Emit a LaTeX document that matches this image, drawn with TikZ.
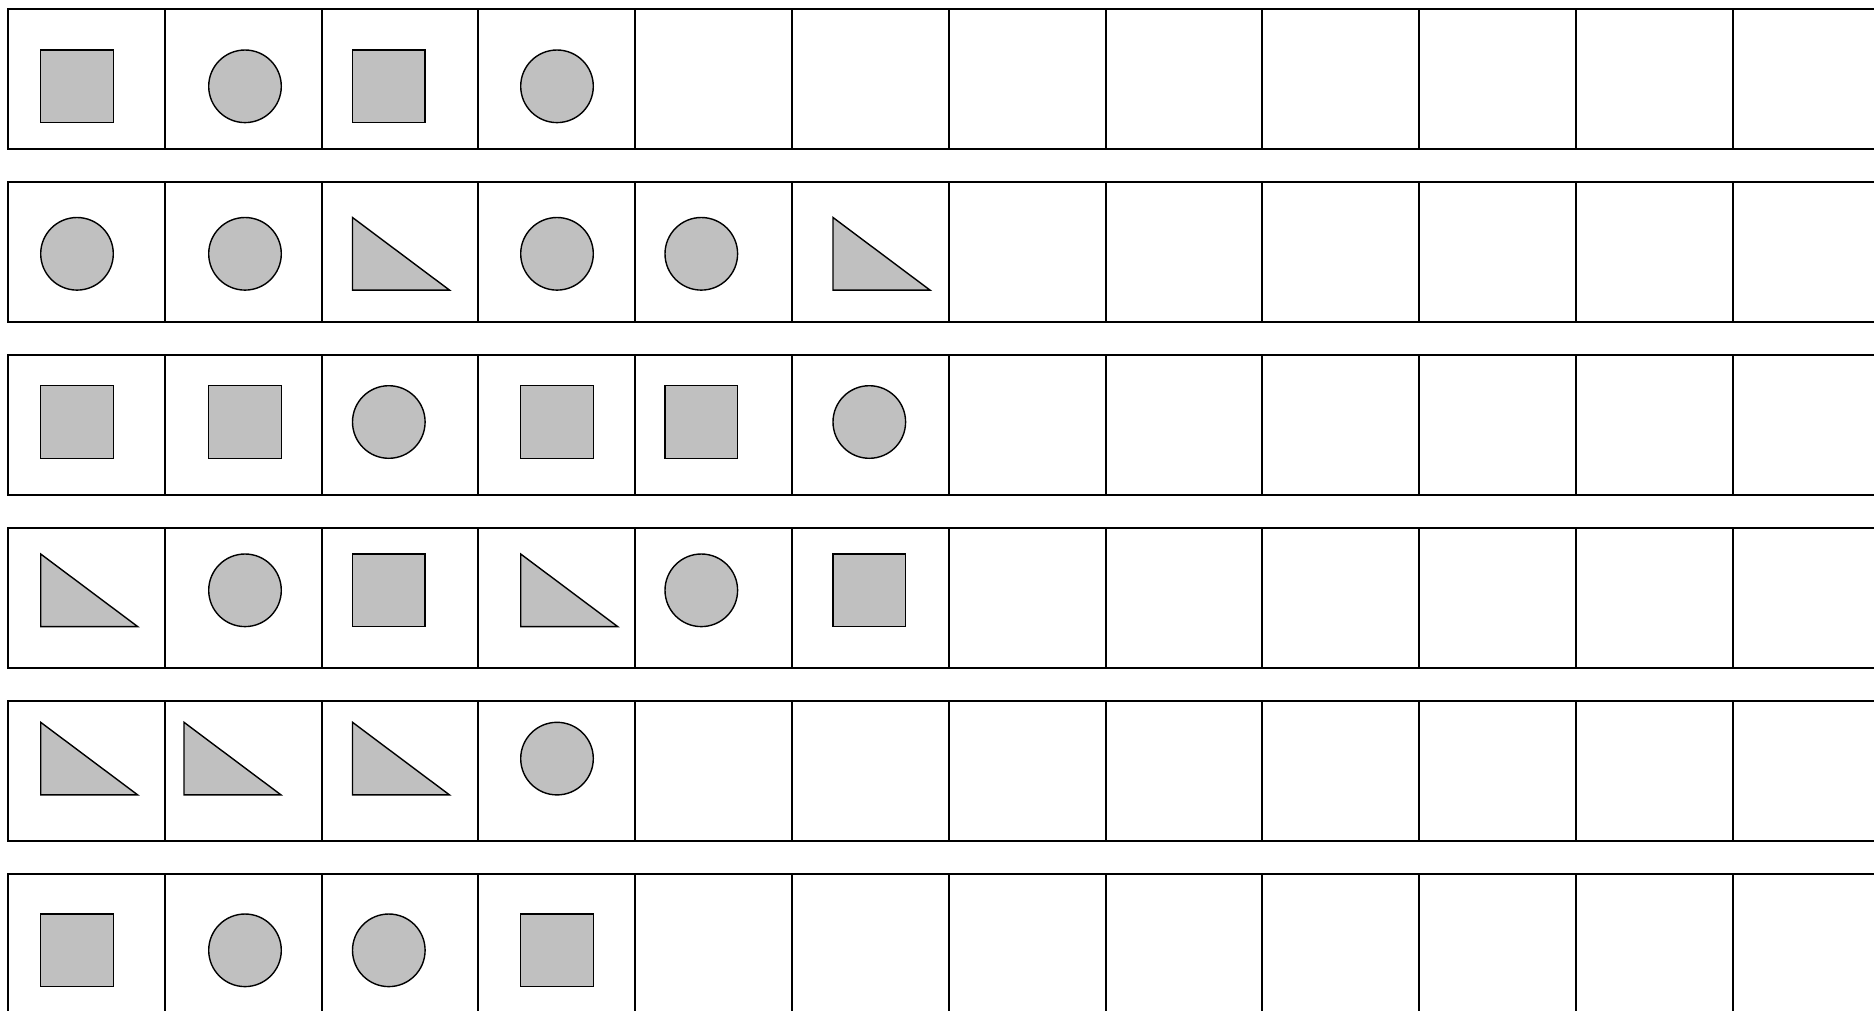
\documentclass[tikz,border=0pt]{standalone}
\definecolor{shapegrey}{RGB}{192,192,192}
\tikzset{
  frame/.style={draw=black, line width=2pt},
  figure/.style={draw=black, fill=shapegrey, line width=1.4pt, line join=miter}
}
\newcommand\shpS[2]{\path[figure] (#1,#2) rectangle ++(72.6,72.6);}
\newcommand\shpC[2]{\path[figure] (#1+36.3,#2+36.3) circle (36.3);}
\newcommand\shpT[2]{\path[figure] (#1,#2) -- (#1,#2+72.6) -- (#1+97,#2+72.6) -- cycle;}
\begin{document}
\begin{tikzpicture}[x=1pt,y=-1pt]
\useasboundingbox (0,0) rectangle (1874,1010);
\clip (0,0) rectangle (1874,1010);
\fill[white] (0,0) rectangle (1874,1010);
% cell strips
\foreach \t in {9,182,355,528,701,874}{
  \draw[frame] (1900,\t) -- (8,\t) -- (8,\t+139.5) -- (1900,\t+139.5);
  \foreach \k in {1,...,11}{
    \draw[frame] (8+\k*156.8,\t) -- ++(0,139.5);
  }
}
% row 1
\shpS{40.7}{50}
\shpC{208.7}{50}
\shpS{352.5}{50}
\shpC{520.7}{50}
% row 2
\shpC{40.7}{217.5}
\shpC{208.7}{217.5}
\shpT{352.5}{217.5}
\shpC{520.7}{217.5}
\shpC{665}{217.5}
\shpT{833}{217.5}
% row 3
\shpS{40.7}{385.7}
\shpS{208.7}{385.7}
\shpC{352.5}{385.7}
\shpS{520.7}{385.7}
\shpS{665}{385.7}
\shpC{833}{385.7}
% row 4
\shpT{40.7}{554}
\shpC{208.7}{554}
\shpS{352.5}{554}
\shpT{520.7}{554}
\shpC{665}{554}
\shpS{833}{554}
% row 5
\shpT{40.7}{722.3}
\shpT{184}{722.3}
\shpT{352.5}{722.3}
\shpC{520.7}{722.3}
% row 6
\shpS{40.7}{914}
\shpC{208.7}{914}
\shpC{352.5}{914}
\shpS{520.7}{914}
\end{tikzpicture}
\end{document}
